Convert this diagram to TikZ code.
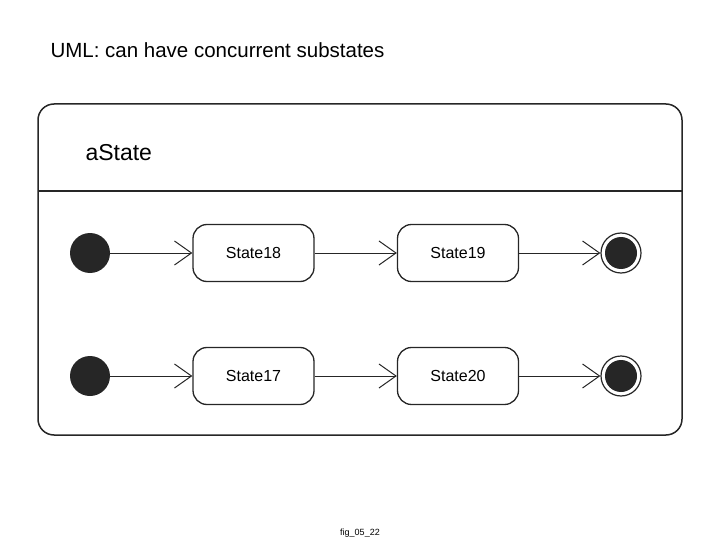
\documentclass[tikz,border=0pt]{standalone}
\usepackage{fontspec}
\setmainfont{Liberation Sans}
\usetikzlibrary{arrows.meta}
\tikzset{
 st/.style={draw=black!85,line width=1.3pt,rounded corners=14pt,minimum width=121pt,minimum height=57pt,font=\fontsize{16}{19}\selectfont},
 ini/.style={circle,fill=black!85,minimum size=40pt,inner sep=0pt},
 fin/.style={circle,draw=black!85,line width=1.2pt,fill=white,minimum size=40pt,inner sep=0pt},
 tr/.style={draw=black!85,line width=1pt,-{Straight Barb[length=17pt,width=24pt,line width=1pt]}},
}
\begin{document}
\begin{tikzpicture}[x=1pt,y=-1pt]
\useasboundingbox (0,0) rectangle (720,540);
\node[anchor=west,font=\fontsize{20.5}{24}\selectfont] (title) at (47,50) {UML: can have concurrent substates};
\node[draw=black!85,line width=1.5pt,rounded corners=16pt,minimum width=644pt,minimum height=331pt,inner sep=0pt] (outer) at (360,269.5) {};
\coordinate (dl) at (38,191); \coordinate (dr) at (682,191);
\draw[line width=1.5pt,black!85] (dl) -- (dr);
\node[anchor=west,font=\fontsize{23}{27}\selectfont] (name) at (82,153) {aState};
\foreach \r/\y/\a/\b in {1/253/State18/State19, 2/376/State17/State20}{
 \node[ini] (i\r) at (90,\y) {};
 \node[st] (a\r) at (253.5,\y) {\a};
 \node[st] (b\r) at (458,\y) {\b};
 \node[fin] (f\r) at (621,\y) {};
 \node[ini,minimum size=32pt] (g\r) at (621,\y) {};
 \draw[tr] (i\r) -- (a\r);
 \draw[tr] (a\r) -- (b\r);
 \draw[tr] (b\r) -- (f\r);
}
\node[font=\fontsize{9}{11}\selectfont] (fig) at (360,533) {fig\_05\_22};
\end{tikzpicture}
\end{document}
